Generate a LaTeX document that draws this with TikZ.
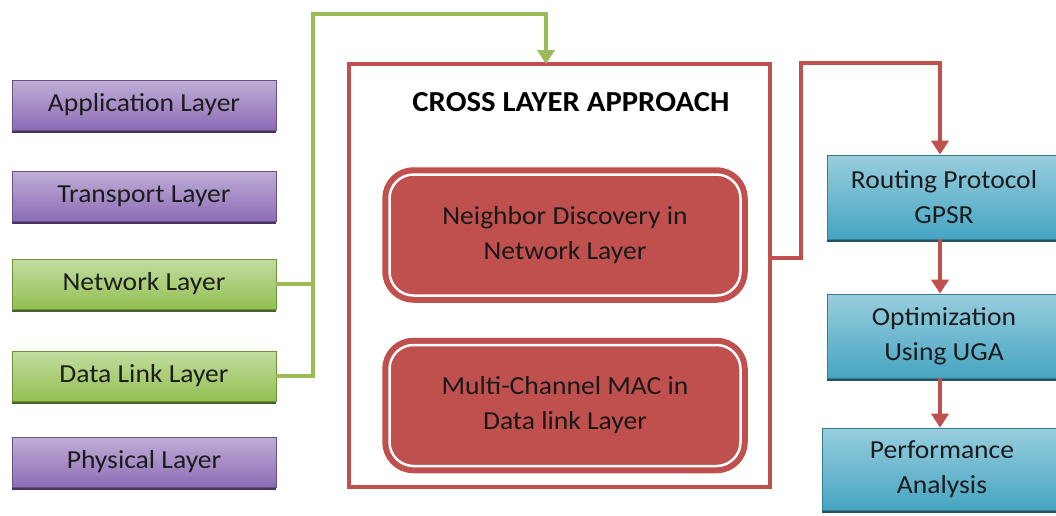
\documentclass[tikz,border=0pt]{standalone}
\usepackage{fontspec}
\setmainfont[FakeStretch=1.06]{Carlito}
\usetikzlibrary{arrows.meta,positioning,shadows}

\definecolor{layerpurple}{HTML}{8C6CB6}
\definecolor{layergreen}{HTML}{92C052}
\definecolor{stagecyan}{HTML}{45A5C2}
\definecolor{crossred}{HTML}{C0504D}
\definecolor{linkgreen}{HTML}{9BBB59}
\definecolor{textgray}{HTML}{1C1C1C}

\begin{document}
\begin{tikzpicture}[x=1pt,y=-1pt,inner sep=2pt,
  every node/.style={align=center,font=\fontsize{26}{35}\selectfont,text=textgray},
  layer/.style={rectangle,draw=#1!75!black,line width=0.7pt,
    top color=#1!55!white,bottom color=#1,
    minimum width=264pt,minimum height=50pt,
    general shadow={shadow yshift=-3pt,fill=#1!50!black}},
  stagebox/.style={layer=stagecyan,minimum width=234pt,minimum height=84pt},
  pill/.style={rectangle,rounded corners=24pt,draw=crossred,fill=crossred,
    line width=6pt,double=white,double distance=2.5pt,
    minimum width=351pt,minimum height=121pt,text=black!90},
  greenlink/.style={draw=linkgreen,line width=4pt},
  redlink/.style={draw=crossred,line width=4pt},
  tip/.style={-{Triangle[width=17pt,length=14pt]}}]

  \clip (0,0) rectangle (1056,515);
  \useasboundingbox (0,0) rectangle (1056,515);

  % OSI stack on the left
  \node[layer=layerpurple] (app) at (144,105) {Application Layer};
  \node[layer=layerpurple] (trans) at (144,196) {Transport Layer};
  \node[layer=layergreen] (net) at (144,284) {Network Layer};
  \node[layer=layergreen] (dl) at (144,376) {Data Link Layer};
  \node[layer=layerpurple] (phy) at (144,462) {Physical Layer};

  % cross layer block
  \node[draw=crossred,line width=3.5pt,minimum width=421pt,minimum height=423pt,
    inner sep=0pt] (cross) at (559.5,275.5) {};
  \node[font=\fontsize{29}{32}\selectfont\bfseries,text=black] (title) at (571,102)
    {CROSS LAYER APPROACH};
  \node[pill] (nd) at (565,235) {Neighbor Discovery in\\Network Layer};
  \node[pill] (mac) at (565,405.5) {Multi-Channel MAC in\\Data link Layer};

  % processing chain on the right, cut off by the page edge
  \node[stagebox] (route) at (944,197) {Routing Protocol\\GPSR};
  \node[stagebox] (opt) at (944,336) {Optimization\\Using UGA};
  \node[stagebox,minimum width=240pt,minimum height=82pt] (perf) at (942,469)
    {Performance\\Analysis};

  \coordinate (gbend) at (313,14);
  \coordinate (gin) at (546,64);
  \coordinate (rout) at (cross.east |- 0,258);
  \coordinate (rbend) at (801,63);
  \coordinate (rdrop) at (940,0);

  \draw[greenlink] (net.east) -- (net.east -| gbend);
  \draw[greenlink,tip] (dl.east) -| (gbend) -| (gin);

  \draw[redlink,tip] (rout) -| (rbend) -| (route.north -| rdrop);
  \draw[redlink,tip] (route.south -| rdrop) -- (opt.north -| rdrop);
  \draw[redlink,tip] (opt.south -| rdrop) -- (perf.north -| rdrop);

\end{tikzpicture}
\end{document}
